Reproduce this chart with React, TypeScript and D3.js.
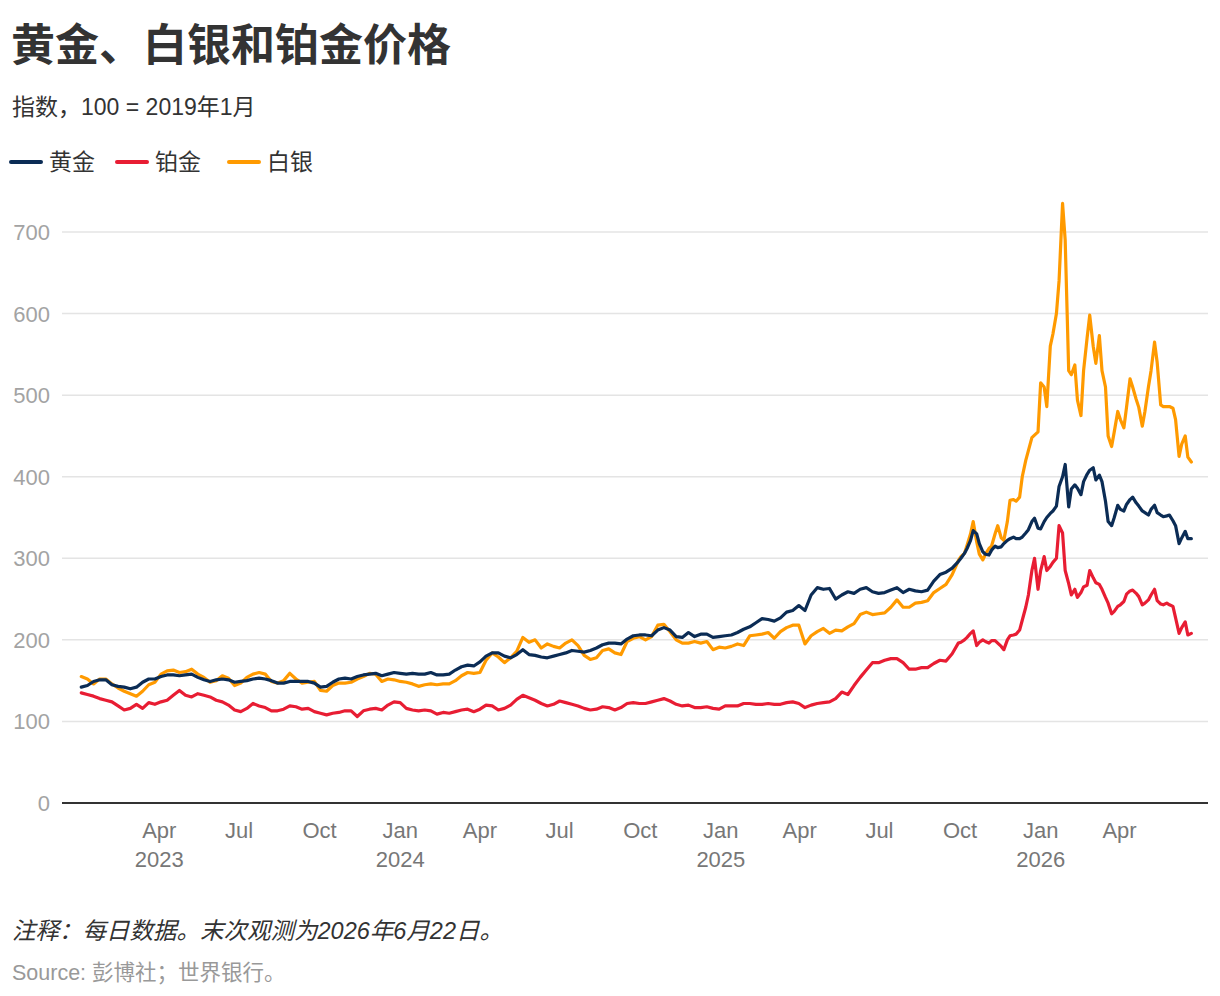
import { useEffect, useRef } from 'react';
import * as d3 from 'd3';

// Observation dates: weekly (Mondays) to end of Sep 2025, then Mondays + Thursdays
const weeklyDates = d3.timeMonday.range(new Date(2023, 0, 2), new Date(2025, 8, 30));
const lateDates = [
  ...d3.timeThursday.range(new Date(2025, 9, 2), new Date(2026, 5, 23)),
  ...d3.timeMonday.range(new Date(2025, 9, 3), new Date(2026, 5, 23)),
].sort((a, b) => +a - +b);
const dates = [...weeklyDates, ...lateDates];

// Index, 100 = Jan 2019
const gold = [
  142, 144, 149, 151, 151, 145, 143, 142, 140, 142,
  148, 152, 152, 155, 157, 157, 156, 157, 158, 154,
  151, 149, 151, 152, 151, 148, 149, 150, 152, 153,
  152, 150, 147, 147, 149, 149, 149, 149, 147, 142,
  143, 148, 152, 153, 152, 155, 157, 158, 159, 156,
  158, 160, 159, 158, 159, 158, 158, 160, 157, 157,
  158, 163, 167, 169, 168, 173, 180, 184, 184, 180,
  178, 182, 188, 182, 181, 179, 178, 180, 182, 184,
  187, 186, 185, 187, 190, 194, 196, 196, 195, 201,
  205, 206, 206, 205, 212, 215, 212, 204, 203, 209,
  204, 207, 207, 203, 204, 205, 206, 209, 213, 216,
  221, 226, 225, 223, 227, 234, 236, 242, 236, 255,
  264, 262, 263, 250, 255, 259, 257, 262, 264, 259,
  257, 258, 261, 264, 258, 262, 260, 259, 261, 272,
  280, 283, 288, 296,
  // Oct 2025 onwards
  300, 306, 312, 322, 334, 330, 318, 308, 305, 304,
  310, 315, 313, 314, 318, 322, 324, 326, 324, 324,
  326, 331, 335, 345, 349, 337, 336, 345, 350, 355,
  358, 364, 388, 400, 415, 363, 385, 390, 386, 378,
  394, 403, 408, 411, 396, 402, 394, 370, 345, 340,
  350, 365, 360, 358, 366, 372, 375, 368, 364, 358,
  356, 353, 360, 365, 356, 353, 351, 352, 353, 346,
  340, 318, 325, 333, 324, 324,
];

const platinum = [
  135, 133, 131, 128, 126, 124, 119, 114, 116, 121,
  116, 123, 121, 124, 126, 132, 138, 132, 130, 134,
  132, 130, 126, 124, 120, 114, 112, 116, 122, 119,
  117, 113, 113, 115, 119, 118, 115, 116, 112, 110,
  108, 110, 111, 113, 113, 106, 113, 115, 116, 114,
  120, 124, 123, 116, 114, 113, 114, 113, 109, 111,
  110, 112, 114, 115, 112, 115, 120, 119, 114, 116,
  120, 127, 132, 129, 126, 122, 119, 121, 125, 123,
  121, 119, 116, 114, 115, 118, 117, 114, 117, 122,
  123, 122, 122, 124, 126, 128, 125, 121, 119, 120,
  117, 117, 118, 116, 115, 119, 119, 119, 122, 122,
  121, 121, 122, 121, 121, 123, 124, 122, 117, 120,
  122, 123, 124, 128, 136, 133, 144, 154, 163, 172,
  172, 175, 177, 177, 172, 164, 164, 166, 166, 171,
  175, 174, 183, 196,
  // Oct 2025 onwards
  197, 200, 203, 208, 211, 193, 197, 200, 198, 196,
  199, 199, 196, 192, 188, 200, 205, 206, 207, 212,
  224, 240, 255, 285, 300, 262, 285, 302, 285, 290,
  295, 300, 340, 331, 285, 269, 255, 262, 252, 258,
  265, 267, 285, 276, 270, 268, 262, 252, 245, 232,
  235, 241, 243, 247, 256, 260, 261, 257, 253, 243,
  245, 249, 255, 262, 248, 244, 243, 245, 243, 241,
  227, 208, 215, 222, 206, 208,
];

const silver = [
  155, 152, 146, 152, 152, 146, 141, 137, 134, 131,
  137, 145, 148, 158, 162, 163, 160, 161, 164, 158,
  154, 148, 150, 156, 153, 144, 147, 154, 158, 160,
  158, 149, 147, 150, 159, 152, 147, 148, 149, 138,
  137, 144, 147, 147, 148, 152, 155, 159, 158, 149,
  152, 151, 149, 148, 146, 143, 145, 146, 145, 146,
  146, 150, 156, 160, 159, 160, 175, 184, 179, 172,
  178, 186, 203, 197, 200, 190, 195, 192, 190, 196,
  200, 193, 181, 176, 178, 187, 189, 184, 182, 198,
  202, 204, 200, 204, 218, 219, 210, 200, 196, 196,
  198, 196, 198, 188, 191, 190, 192, 195, 193, 205,
  206, 207, 209, 202, 210, 215, 218, 218, 195, 205,
  210, 214, 208, 212, 211, 216, 220, 231, 234, 231,
  232, 233, 240, 249, 240, 240, 245, 246, 248, 258,
  263, 268, 280, 297,
  // Oct 2025 onwards
  302, 306, 316, 330, 345, 320, 305, 298, 305, 312,
  315, 330, 340, 325, 322, 345, 371, 372, 370, 375,
  400, 420, 432, 448, 451, 455, 515, 510, 486, 560,
  575, 600, 640, 735, 690, 530, 525, 537, 494, 475,
  530, 570, 598, 560, 539, 573, 530, 510, 450, 437,
  455, 480, 470, 460, 485, 520, 510, 495, 485, 462,
  480, 510, 530, 565, 540, 488, 486, 486, 486, 484,
  470, 425, 440, 450, 424, 418,
];

const yTicks = [0, 100, 200, 300, 400, 500, 600, 700];
const xTicks = d3.timeMonth.range(new Date(2023, 3, 1), new Date(2026, 4, 1), 3);

const series = [
  { name: '黄金', color: '#0b2c55', values: gold },
  { name: '铂金', color: '#e81d33', values: platinum },
  { name: '白银', color: '#ff9a00', values: silver },
];

const sans = "'Liberation Sans', Arial, 'Noto Sans CJK SC', sans-serif";

export default function App() {
  const ref = useRef<SVGSVGElement>(null);

  useEffect(() => {
    const svg = d3.select(ref.current);
    svg.selectAll('*').remove();

    const width = 1220;
    const height = 996;
    svg.attr('width', width).attr('height', height).style('font-family', sans);

    const x = d3
      .scaleTime()
      .domain([new Date(2022, 11, 11), new Date(2026, 6, 11)])
      .range([62, 1208]);
    const y = d3.scaleLinear().domain([0, 700]).range([803, 232]);

    // Title block
    svg.append('text')
      .attr('x', 11).attr('y', 61)
      .attr('fill', '#333')
      .style('font-family', "'Noto Sans CJK SC', sans-serif")
      .style('font-weight', 700)
      .style('font-size', '44px')
      .text('黄金、白银和铂金价格');

    svg.append('text')
      .attr('x', 12).attr('y', 115)
      .attr('fill', '#333')
      .style('font-size', '23px')
      .text('指数，100 = 2019年1月');

    // Legend
    const legendX = [10, 116, 228];
    const legend = svg.append('g');
    series.forEach((s, i) => {
      legend.append('line')
        .attr('x1', legendX[i] + 1).attr('x2', legendX[i] + 31)
        .attr('y1', 162).attr('y2', 162)
        .attr('stroke', s.color)
        .attr('stroke-width', 4)
        .attr('stroke-linecap', 'round');
      legend.append('text')
        .attr('x', legendX[i] + 39).attr('y', 170)
        .attr('fill', '#333')
        .style('font-size', '23px')
        .text(s.name);
    });

    // Gridlines
    svg.append('g')
      .selectAll('line')
      .data(yTicks.filter((d) => d > 0))
      .join('line')
      .attr('x1', 62).attr('x2', 1208)
      .attr('y1', (d) => y(d)).attr('y2', (d) => y(d))
      .attr('stroke', '#e4e4e4')
      .attr('stroke-width', 1.5);

    // Y labels
    svg.append('g')
      .selectAll('text')
      .data(yTicks)
      .join('text')
      .attr('x', 50)
      .attr('y', (d) => y(d) + 8)
      .attr('text-anchor', 'end')
      .attr('fill', '#a3a3a3')
      .style('font-size', '22px')
      .text((d) => d);

    // X labels
    const xg = svg.append('g').attr('fill', '#777').style('font-size', '22px');
    xTicks.forEach((d, i) => {
      xg.append('text')
        .attr('x', x(d)).attr('y', 838)
        .attr('text-anchor', 'middle')
        .text(d3.timeFormat('%b')(d));
      if (i === 0 || d.getMonth() === 0) {
        xg.append('text')
          .attr('x', x(d)).attr('y', 867)
          .attr('text-anchor', 'middle')
          .text(d3.timeFormat('%Y')(d));
      }
    });

    // Lines (silver underneath, gold on top)
    const line = d3
      .line<number>()
      .x((_, i) => x(dates[i]))
      .y((d) => y(d));

    [series[2], series[1], series[0]].forEach((s) => {
      svg.append('path')
        .datum(s.values.slice(0, dates.length))
        .attr('fill', 'none')
        .attr('stroke', s.color)
        .attr('stroke-width', 3.2)
        .attr('stroke-linejoin', 'round')
        .attr('stroke-linecap', 'round')
        .attr('d', line);
    });

    // Baseline
    svg.append('line')
      .attr('x1', 62).attr('x2', 1208)
      .attr('y1', y(0)).attr('y2', y(0))
      .attr('stroke', '#333')
      .attr('stroke-width', 2);

    // Footer
    svg.append('text')
      .attr('x', 12).attr('y', 939)
      .attr('fill', '#333')
      .style('font-size', '23.5px')
      .style('font-style', 'italic')
      .text('注释：每日数据。末次观测为2026年6月22日。');

    svg.append('text')
      .attr('x', 12).attr('y', 980)
      .attr('fill', '#999')
      .style('font-size', '21.5px')
      .text('Source: 彭博社；世界银行。');
  }, []);

  return <svg ref={ref} style={{ position: 'absolute', left: 0, top: 0 }}></svg>;
}
